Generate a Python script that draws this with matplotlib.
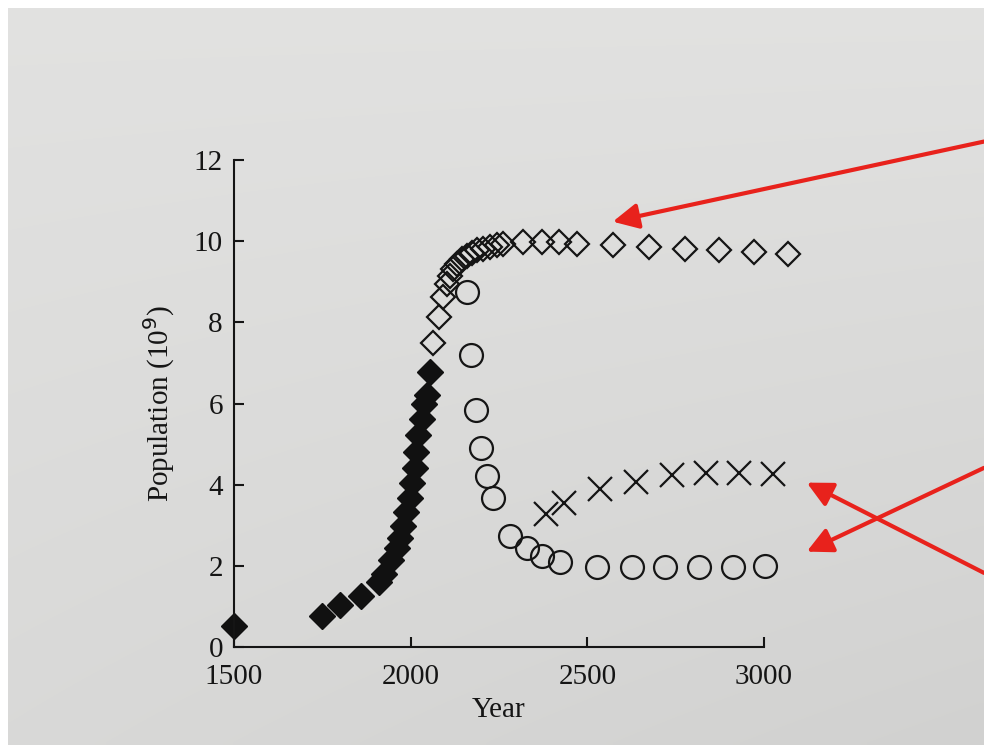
import numpy as np
import matplotlib
matplotlib.use("Agg")
import matplotlib.pyplot as plt

# Historical population (filled diamonds)
hist_year = [1500, 1750, 1800, 1860, 1910, 1925, 1945, 1960, 1969, 1977,
             1988, 1997, 2005, 2011, 2016, 2022, 2031, 2039, 2045, 2054]
hist_pop = [0.51, 0.77, 1.03, 1.26, 1.59, 1.79, 2.15, 2.43, 2.68, 2.99,
            3.32, 3.67, 4.05, 4.41, 4.80, 5.22, 5.63, 6.00, 6.20, 6.78]

# Projection, open diamonds
proj_year = [2062, 2080, 2091, 2102, 2110, 2119, 2130, 2144, 2159, 2173,
             2187, 2204, 2224, 2243, 2260, 2317, 2371, 2419, 2470, 2572,
             2674, 2775, 2874, 2973, 3067]
proj_pop = [7.50, 8.12, 8.62, 8.95, 9.14, 9.31, 9.43, 9.55, 9.64, 9.71,
            9.79, 9.81, 9.86, 9.90, 9.93, 9.98, 9.98, 9.98, 9.93, 9.90,
            9.86, 9.81, 9.79, 9.74, 9.69]

# Collapse scenario, open circles
circ_year = [2159, 2170, 2184, 2198, 2215, 2232, 2280, 2328, 2373, 2424,
             2526, 2625, 2721, 2817, 2911, 3004]
circ_pop = [8.74, 7.20, 5.83, 4.90, 4.22, 3.67, 2.73, 2.43, 2.23, 2.10,
            1.97, 1.97, 1.97, 1.97, 1.97, 2.00]

# Recovery scenario, crosses
cross_year = [2382, 2433, 2535, 2637, 2739, 2835, 2929, 3025]
cross_pop = [3.27, 3.54, 3.90, 4.07, 4.24, 4.29, 4.29, 4.27]

x_ticks = [1500, 2000, 2500, 3000]
y_ticks = [0, 2, 4, 6, 8, 10, 12]

plt.rcParams['font.family'] = ['Liberation Serif', 'DejaVu Serif']

fig = plt.figure(figsize=(9.84, 7.45), dpi=100, facecolor='white')

# photographed page background
bg = fig.add_axes([8 / 984, 0, 1 - 8 / 984, 1 - 8 / 745], zorder=-10)
gx, gy = np.meshgrid(np.linspace(0, 1, 200), np.linspace(0, 1, 150))
shade = 0.885 - 0.035 * gy - 0.03 * gx * gy
bg.imshow(np.dstack([shade, shade, shade * 0.995]), aspect='auto',
          extent=[0, 1, 1, 0], interpolation='bilinear')
bg.axis('off')

ax = fig.add_axes([234 / 984, 98 / 745, 530 / 984, 487 / 745])
ax.patch.set_alpha(0)

ax.plot(hist_year, hist_pop, linestyle='none', marker='D', ms=13,
        color='#111111', clip_on=False)
ax.plot(proj_year, proj_pop, linestyle='none', marker='D', ms=12.5,
        mfc='none', mec='#151515', mew=1.6, clip_on=False)
ax.plot(circ_year, circ_pop, linestyle='none', marker='o', ms=16.5,
        mfc='none', mec='#151515', mew=1.6, clip_on=False)
ax.plot(cross_year, cross_pop, linestyle='none', marker='x', ms=17,
        mec='#151515', mew=1.6, clip_on=False)

ax.set_xlim(1500, 3000)
ax.set_ylim(0, 12)
ax.set_xticks(x_ticks)
ax.set_yticks(y_ticks)
for side in ['top', 'right']:
    ax.spines[side].set_visible(False)
for side in ['left', 'bottom']:
    ax.spines[side].set_linewidth(1.5)
    ax.spines[side].set_color('#151515')
ax.tick_params(direction='in', length=7, width=1.5, colors='#151515',
               labelsize=21)
ax.tick_params(axis='x', pad=12)
ax.tick_params(axis='y', pad=8)
ax.set_xlabel("Year", fontsize=21, color='#151515', labelpad=5)
ax.set_ylabel("Population (10$^9$)", fontsize=21, color='#151515', labelpad=12)

# red annotation arrows running in from the right edge
arrow_kw = dict(arrowstyle='-|>,head_length=0.9,head_width=0.45',
                color='#e8221c', lw=3, mutation_scale=17,
                shrinkA=0, shrinkB=0)
ax.annotate("", xy=(2572, 10.48), xycoords='data',
            xytext=(1.0, 0.81), textcoords='figure fraction',
            arrowprops=arrow_kw, annotation_clip=False)
ax.annotate("", xy=(3121, 4.05), xycoords='data',
            xytext=(1.0, 0.231), textcoords='figure fraction',
            arrowprops=arrow_kw, annotation_clip=False)
ax.annotate("", xy=(3121, 2.35), xycoords='data',
            xytext=(1.0, 0.372), textcoords='figure fraction',
            arrowprops=arrow_kw, annotation_clip=False)

fig.savefig("out.png", dpi=100, facecolor=fig.get_facecolor())
